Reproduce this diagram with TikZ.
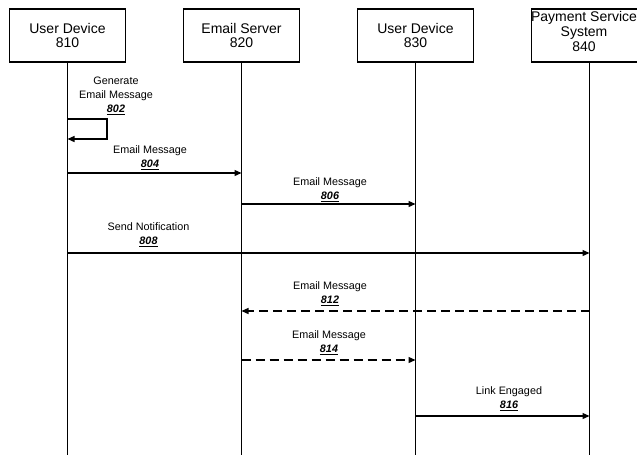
\documentclass[tikz,border=0pt]{standalone}
\usepackage{fontspec}
\setmainfont{Liberation Sans}
\usetikzlibrary{arrows.meta,positioning}
\newcommand{\refnum}[1]{\textbf{\textit{\underline{#1}}}}

\begin{document}
\begin{tikzpicture}[x=1pt, y=-1pt,
  headbox/.style={draw, line width=1.2pt, minimum width=116pt, minimum height=53pt,
    inner sep=0pt, align=center, font=\fontsize{14}{14.5}\selectfont},
  msglbl/.style={align=center, inner sep=0pt, font=\fontsize{10.8}{14}\selectfont},
  life/.style={line width=1.3pt},
  msg/.style={line width=1.3pt, -{Triangle[length=7pt,width=6pt]}},
  dmsg/.style={msg, dash pattern=on 9pt off 5pt}]
\clip (0,0) rectangle (637,455);
% Participants
\node[headbox] (u810) at (67.5,35.5) {User Device\\810};
\node[headbox] (s820) at (241.5,35.5) {Email Server\\820};
\node[headbox] (u830) at (415.5,35.5) {User Device\\830};
\node[headbox] (p840) at (589.5,35.5) {};
\node[align=center, inner sep=0pt, font=\fontsize{14}{15}\selectfont] (p840t) at (584,31) {Payment Service\\System\\840};
% Lifelines
\coordinate (bot) at (0,456);
\draw[life] (u810) -- (u810 |- bot);
\draw[life] (s820) -- (s820 |- bot);
\draw[life] (u830) -- (u830 |- bot);
\draw[life] (p840) -- (p840 |- bot);
% Message heights
\coordinate (g802) at (107,119);
\coordinate (g802e) at (107,139);
\coordinate (y804) at (0,173);
\coordinate (y806) at (0,204);
\coordinate (y808) at (0,253);
\coordinate (y812) at (0,311);
\coordinate (y814) at (0,360);
\coordinate (y816) at (0,416);
% Messages
\draw[msg] (u810 |- g802) -- (g802) -- (g802e) -- (u810 |- g802e);
\node[msglbl] (l802) at (116,95.5) {Generate\\Email Message\\\refnum{802}};
\draw[msg] (u810 |- y804) -- (s820 |- y804);
\node[msglbl] (l804) at (150,158) {Email Message\\\refnum{804}};
\draw[msg] (s820 |- y806) -- (u830 |- y806);
\node[msglbl] (l806) at (330,189.5) {Email Message\\\refnum{806}};
\draw[msg] (u810 |- y808) -- (p840 |- y808);
\node[msglbl] (l808) at (148.5,234.5) {Send Notification\\\refnum{808}};
\draw[dmsg] (p840 |- y812) -- (s820 |- y812);
\node[msglbl] (l812) at (330,294) {Email Message\\\refnum{812}};
\draw[dmsg] (s820 |- y814) -- (u830 |- y814);
\node[msglbl] (l814) at (329,343) {Email Message\\\refnum{814}};
\draw[msg] (u830 |- y816) -- (p840 |- y816);
\node[msglbl] (l816) at (509,399) {Link Engaged\\\refnum{816}};
\end{tikzpicture}
\end{document}
